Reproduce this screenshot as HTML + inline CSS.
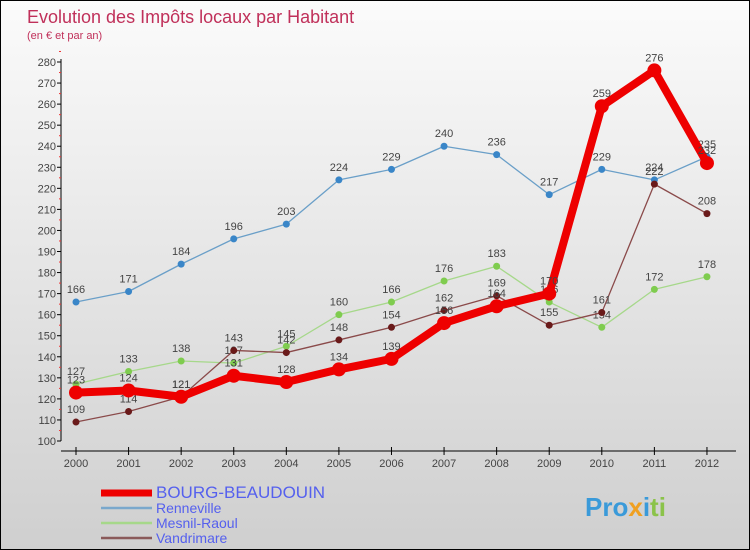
<!DOCTYPE html>
<html><head><meta charset="utf-8"><style>
body{margin:0}
#c{width:750px;height:550px;position:relative;box-sizing:border-box;border:1px solid #000;background:linear-gradient(#fbfbfb,#cfcfcf);font-family:"Liberation Sans",sans-serif;overflow:hidden}
svg text{font-family:"Liberation Sans",sans-serif}
</style></head><body>
<div id="c">
<svg id="s" width="750" height="550">
<text x="26" y="22" font-size="18" fill="#c0305a">Evolution des Impôts locaux par Habitant</text>
<text x="26" y="38" font-size="11" fill="#c0305a">(en € et par an)</text>
<text x="584" y="515" font-size="26" font-weight="bold" fill="#3a9ad9">Pro<tspan fill="#f0a020">x</tspan><tspan fill="#3a9ad9">i</tspan><tspan fill="#8bc34a">ti</tspan></text>
</svg>
</div>
<script>
const years=[2000,2001,2002,2003,2004,2005,2006,2007,2008,2009,2010,2011,2012];
const bourg=[123,124,121,131,128,134,139,156,164,170,259,276,232];
const renneville=[166,171,184,196,203,224,229,240,236,217,229,224,235];
const mesnil=[127,133,138,137,145,160,166,176,183,166,154,172,178];
const vandrimare=[109,114,121,143,142,148,154,162,169,155,161,222,208];
const yTicks=[100,110,120,130,140,150,160,170,180,190,200,210,220,230,240,250,260,270,280];
const NS="http://www.w3.org/2000/svg",svg=document.getElementById('s');
const X=i=>75+i*52.58, Y=v=>440-(v-100)*(379/180);
function el(t,a,p){const e=document.createElementNS(NS,t);for(const k in a)e.setAttribute(k,a[k]);(p||svg).appendChild(e);return e;}
const ya=el('line',{x1:60,y1:58,x2:60,y2:440,stroke:'#000','stroke-width':1});


const xa=el('line',{x1:60,y1:450,x2:735,y2:450,stroke:'#000','stroke-width':1});


yTicks.forEach(v=>{
 el('line',{x1:56,y1:Y(v),x2:60,y2:Y(v),stroke:'#000'});
 el('line',{x1:58,y1:Y(v+5),x2:60,y2:Y(v+5),stroke:'#e33'});
 const t=el('text',{x:55,y:Y(v)+4,'font-size':11,fill:'#444','text-anchor':'end'});t.textContent=v;
 
 
});
years.forEach((y,i)=>{
 el('line',{x1:X(i),y1:446,x2:X(i),y2:454,stroke:'#000'});
 const t=el('text',{x:X(i),y:466,'font-size':11,fill:'#444','text-anchor':'middle'});t.textContent=y;
 
 
});
const series=[
 {n:'renneville',d:renneville,c:'#6a9fc8',p:'#3a86c8',w:1.3,r:3.5},
 {n:'mesnil-raoul',d:mesnil,c:'#a6d88a',p:'#7fcc4f',w:1.3,r:3.5},
 {n:'vandrimare',d:vandrimare,c:'#8a4a4a',p:'#6a1a1a',w:1.3,r:3.5},
 {n:'bourg-beaudouin',d:bourg,c:'#ee0000',p:'#ee0000',w:8,r:7}
];
series.forEach(s=>{
 const pl=el('polyline',{points:s.d.map((v,i)=>X(i)+','+Y(v)).join(' '),fill:'none',stroke:s.c,'stroke-width':s.w,'stroke-linejoin':'round'});
 
 
 s.d.forEach((v,i)=>{
  const c=el('circle',{cx:X(i),cy:Y(v),r:s.r,fill:s.p});
  
  
  const t=el('text',{x:X(i),y:Y(v)-9,'font-size':11,fill:'#444','text-anchor':'middle'});t.textContent=v;
  
  
 });
});
const leg=[['BOURG-BEAUDOUIN','#ee0000',7,17],['Renneville','#7aa8cc',2.5,14],['Mesnil-Raoul','#a6d88a',2.5,14],['Vandrimare','#8a5a5a',2.5,14]];
leg.forEach((l,i)=>{
 const y=492+i*15;
 const g=el('g',{});
 
 
 el('line',{x1:100,y1:y,x2:151,y2:y,stroke:l[1],'stroke-width':l[2]},g);
 const t=el('text',{x:155,y:y+5,'font-size':l[3],fill:'#5560ee'},g);t.textContent=l[0];
});
</script>
</body></html>
